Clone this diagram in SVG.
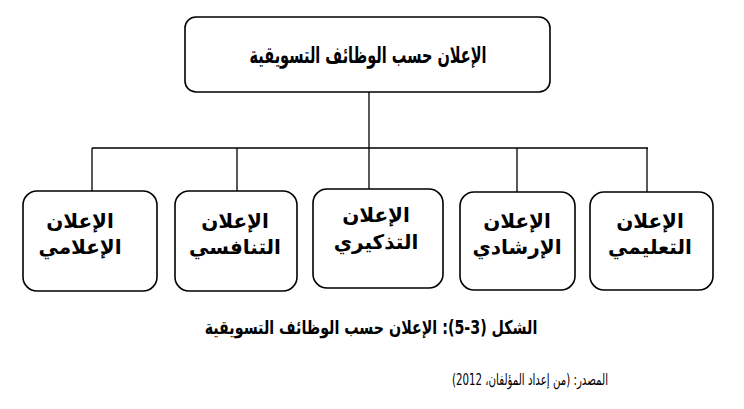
<svg xmlns="http://www.w3.org/2000/svg" width="744" height="409" viewBox="0 0 744 409">
<style>
.box{fill:#fff;stroke:#000;stroke-width:1.6}
.ln{fill:none;stroke:#000;stroke-width:1.3}
.t{font-family:"DejaVu Sans","Noto Sans",sans-serif;font-size:20px;font-weight:bold;fill:#000;text-anchor:middle}
.title{font-family:"DejaVu Sans","Noto Sans",sans-serif;font-size:23px;font-weight:bold;fill:#000;text-anchor:middle}
.cap{font-family:"DejaVu Sans","Noto Sans",sans-serif;font-size:19px;font-weight:bold;fill:#000;text-anchor:middle}
.src{font-family:"DejaVu Sans","Noto Sans",sans-serif;font-size:16px;fill:#000;text-anchor:middle}
</style>
<rect width="744" height="409" fill="#fff"/>
<g id="connectors">
<path class="ln" d="M369 92 V148 M92 148 H648 M92 148 V191 M237 148 V191 M369 148 V189 M517 148 V192 M647 148 V192"/>
</g>
<g id="root">
<rect class="box" x="185" y="17" width="365" height="75" rx="11"/>
<text class="title" x="368" y="63" direction="rtl" textLength="237" lengthAdjust="spacingAndGlyphs">الإعلان حسب الوظائف التسويقية</text>
</g>
<g id="n1">
<rect class="box" x="23" y="191" width="134" height="100" rx="14"/>
<text class="t" x="80" y="228" direction="rtl">الإعلان</text>
<text class="t" x="80" y="254" direction="rtl">الإعلامي</text>
</g>
<g id="n2">
<rect class="box" x="175" y="191" width="122" height="100" rx="14"/>
<text class="t" x="235" y="228" direction="rtl">الإعلان</text>
<text class="t" x="235" y="254" direction="rtl">التنافسي</text>
</g>
<g id="n3">
<rect class="box" x="313" y="189" width="130" height="99" rx="14"/>
<text class="t" x="376" y="222" direction="rtl">الإعلان</text>
<text class="t" x="376" y="249" direction="rtl">التذكيري</text>
</g>
<g id="n4">
<rect class="box" x="460" y="192" width="115" height="98" rx="14"/>
<text class="t" x="517" y="228" direction="rtl">الإعلان</text>
<text class="t" x="517" y="254" direction="rtl">الإرشادي</text>
</g>
<g id="n5">
<rect class="box" x="590" y="192" width="123" height="98" rx="14"/>
<text class="t" x="650" y="228" direction="rtl">الإعلان</text>
<text class="t" x="650" y="254" direction="rtl">التعليمي</text>
</g>
<text class="cap" transform="translate(371,334) scale(0.75,1)" direction="rtl">الشكل (&#x200E;5-3): الإعلان حسب الوظائف التسويقية</text>
<text class="src" x="530" y="385" direction="rtl" textLength="156" lengthAdjust="spacingAndGlyphs">المصدر: (من إعداد المؤلفان، 2012)</text>
</svg>
